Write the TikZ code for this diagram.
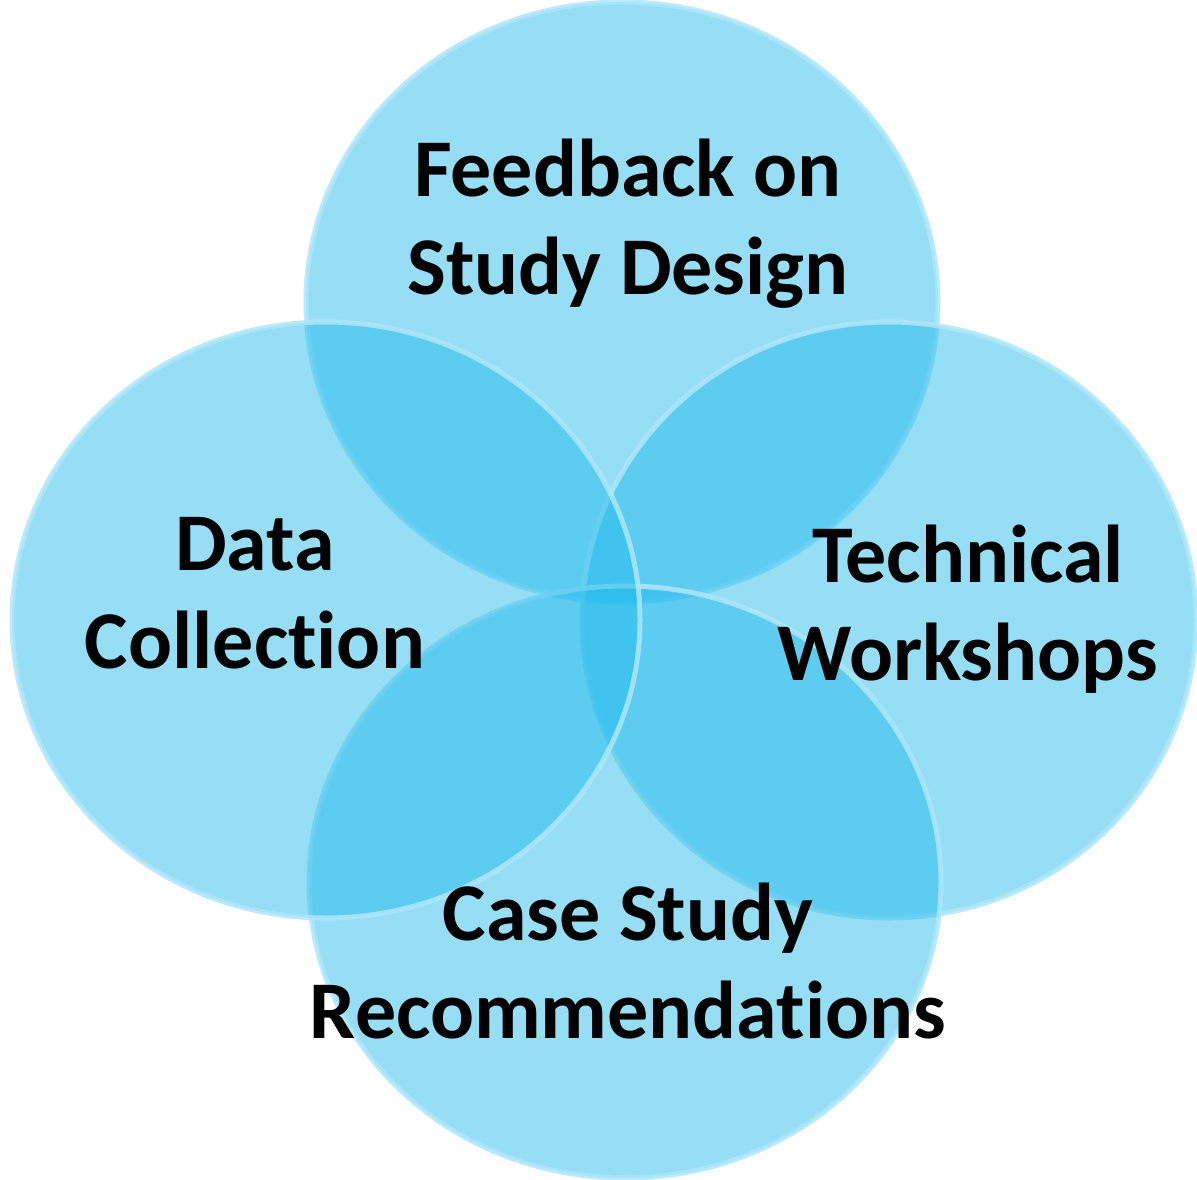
\documentclass[tikz,border=0pt]{standalone}
\usepackage{fontspec}
\setmainfont[Ligatures=NoCommon]{Carlito}
\definecolor{vblue}{RGB}{30,185,235}
\definecolor{vedge}{RGB}{175,230,252}
\begin{document}
\begin{tikzpicture}[x=1pt,y=-1pt,
  blob/.style={fill=vblue,fill opacity=0.47,draw=vedge,draw opacity=0.85,line width=5pt},
  lbl/.style={font=\bfseries\fontsize{82}{98}\selectfont,align=center,text=black}]
\useasboundingbox (0,0) rectangle (1197,1180);
\path[blob] (622,302) ellipse [x radius=316pt, y radius=300pt];
\path[blob] (889,620) ellipse [x radius=307pt, y radius=298pt];
\path[blob] (625,882) ellipse [x radius=316pt, y radius=296pt];
\path[blob] (326,620) ellipse [x radius=314pt, y radius=298pt];
\node[lbl] (fb) at (628,224) {Feedback on\\Study Design};
\node[lbl] (dc) at (255,593) {Data\\Collection};
\node[lbl] (tw) at (968,609) {Technical\\Workshops};
\node[lbl] (cs) at (628,961) {Case Study\\Recommendations};
\end{tikzpicture}
\end{document}
